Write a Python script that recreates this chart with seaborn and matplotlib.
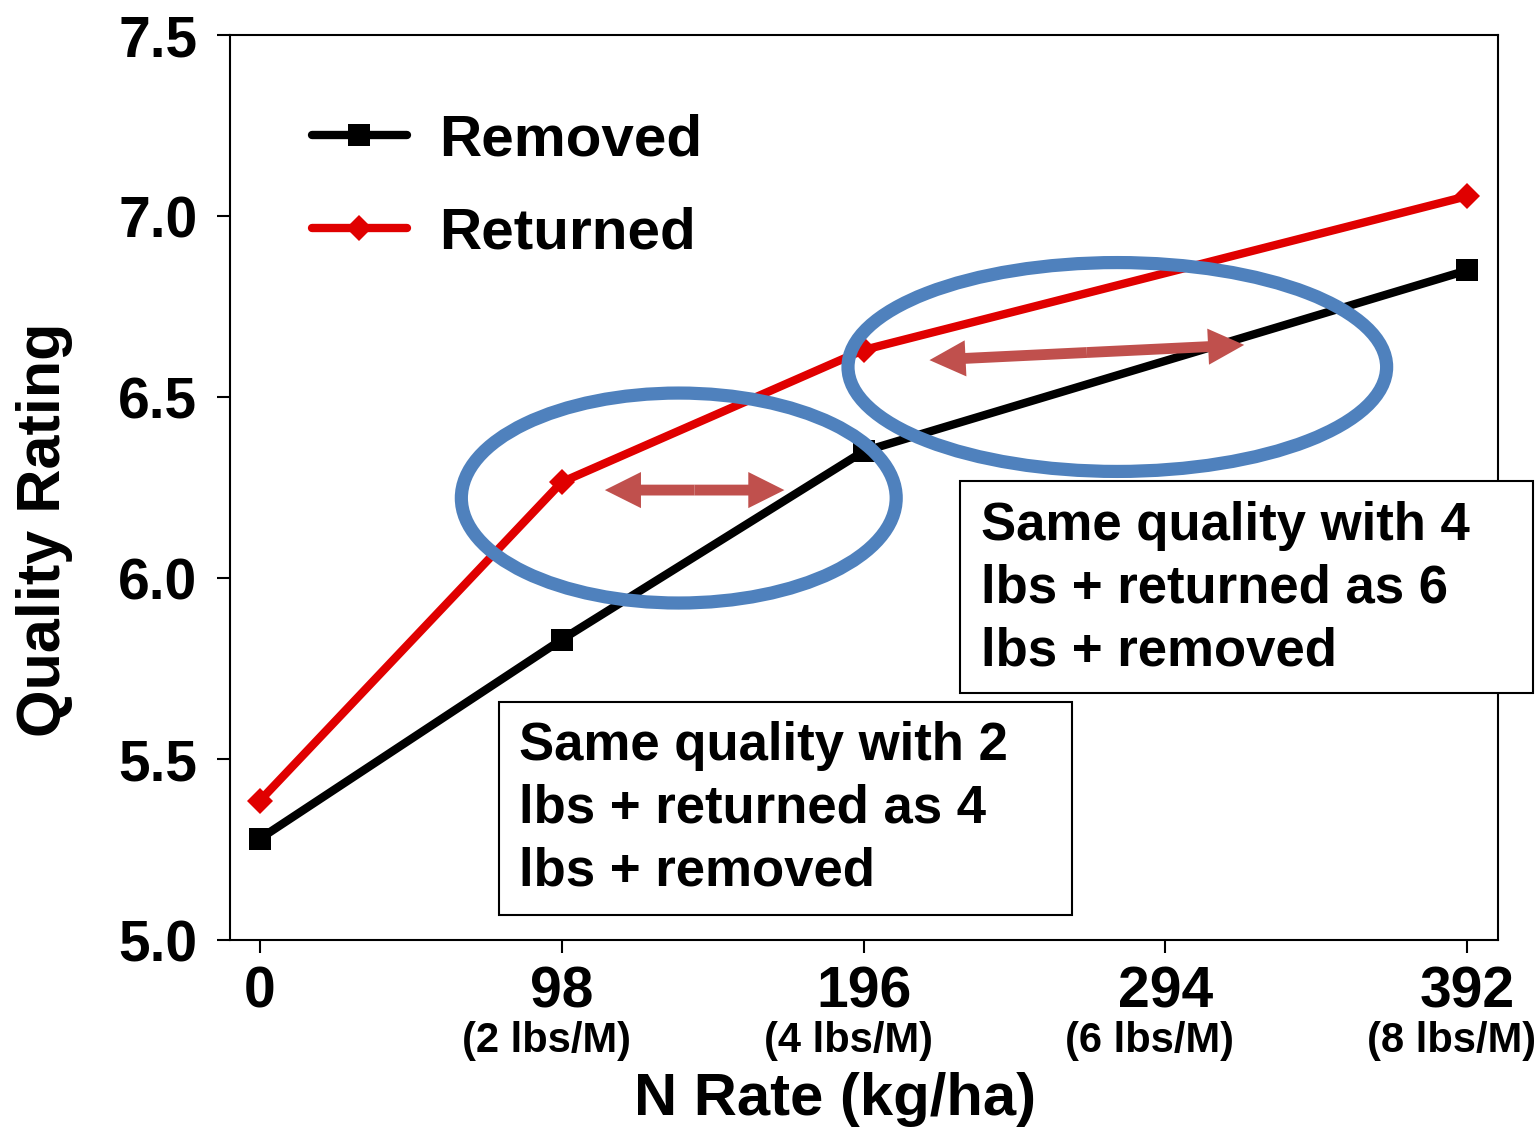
import matplotlib
matplotlib.use('Agg')
import matplotlib.pyplot as plt
import seaborn as sns
from matplotlib.patches import Ellipse, Rectangle, FancyArrowPatch

# Data
n_rate = [0, 98, 196, 392]
removed = [5.28, 5.83, 6.35, 6.85]
returned = [5.385, 6.265, 6.63, 7.055]
tick_pos = [0, 98, 196, 294, 392]
tick_main = ['0', '98', '196', '294', '392']
tick_sub = ['', '(2 lbs/M)', '(4 lbs/M)', '(6 lbs/M)', '(8 lbs/M)']
box_texts = [
    'Same quality with 2\nlbs + returned as 4\nlbs + removed',
    'Same quality with 4\nlbs + returned as 6\nlbs + removed',
]

BLUE = '#4F81BD'
ARROW = '#C0504D'
RED = '#E00000'

sns.set_theme(style='white')
plt.rcParams['font.family'] = ['Liberation Sans', 'DejaVu Sans']
plt.rcParams['font.weight'] = 'bold'
plt.rcParams['text.color'] = 'black'
plt.rcParams['axes.labelcolor'] = 'black'
plt.rcParams['xtick.color'] = 'black'
plt.rcParams['ytick.color'] = 'black'

fig = plt.figure(figsize=(15.4, 11.27), dpi=100)
ax = fig.add_axes([0.1494, 0.1659, 0.8233, 0.8030])

sns.lineplot(x=n_rate, y=removed, ax=ax, color='black', lw=6,
             marker='s', markersize=15.5, markeredgewidth=0, label='Removed')
sns.lineplot(x=n_rate, y=returned, ax=ax, color=RED, lw=6,
             marker='D', markersize=13, markeredgewidth=0, label='Returned')

ax.set_xlim(-9.7, 402)
ax.set_ylim(5.0, 7.5)
ax.set_xticks(tick_pos)
ax.set_xticklabels(tick_main)
ax.set_yticks([5.0, 5.5, 6.0, 6.5, 7.0, 7.5])
ax.set_yticklabels(['5.0', '5.5', '6.0', '6.5', '7.0', '7.5'])
ax.tick_params(axis='both', which='major', direction='out', length=9.5, width=1.5,
               color='black', labelcolor='black', labelsize=41, bottom=True, left=True)
ax.tick_params(axis='x', pad=9)
ax.tick_params(axis='y', pad=14)
for lab in ax.get_xticklabels() + ax.get_yticklabels():
    lab.set_fontweight('bold')
for sp in ax.spines.values():
    sp.set_color('black')
    sp.set_linewidth(1.5)

# second line of x tick labels
trans = matplotlib.transforms.blended_transform_factory(ax.transData, ax.transAxes)
for xp, s in zip(tick_pos, tick_sub):
    if s:
        ax.text(xp - 5, -0.1116, s, transform=trans, ha='center', va='center',
                fontsize=30, fontweight='bold', clip_on=False)

ax.set_xlabel('N Rate (kg/ha)', fontsize=43, fontweight='bold')
ax.set_ylabel('Quality Rating', fontsize=44, fontweight='bold')
ax.xaxis.set_label_coords(0.4775, -0.146)
ax.yaxis.set_label_coords(-0.124, 0.453)

leg = ax.legend(loc='upper left', bbox_to_anchor=(0.0647, 0.913), frameon=False,
                fontsize=42, handlelength=1.62, handletextpad=0.55, labelspacing=0.66,
                borderpad=0, borderaxespad=0)
for t in leg.get_texts():
    t.set_fontweight('bold')
    t.set_color('black')

# ellipses highlighting the comparison regions
ax.add_patch(Ellipse((136.0, 6.221), 141.2, 0.580, fill=False, ec=BLUE, lw=9.5, zorder=4))
ax.add_patch(Ellipse((278.4, 6.583), 174.9, 0.577, fill=False, ec=BLUE, lw=9.5, zorder=4))

# double-headed arrows (two halves from the midpoint)
def double_arrow(x0, y0, x1, y1):
    xm, ym = (x0 + x1) / 2, (y0 + y1) / 2
    for xe, ye in [(x0, y0), (x1, y1)]:
        ax.add_patch(FancyArrowPatch((xm, ym), (xe, ye),
                                     arrowstyle='simple,head_length=1,head_width=1,tail_width=0.3',
                                     mutation_scale=26, color=ARROW, lw=0,
                                     shrinkA=0, shrinkB=0, zorder=5))

double_arrow(112.0, 6.243, 170.3, 6.243)
double_arrow(217.4, 6.602, 319.6, 6.644)

# annotation boxes
boxes = [(0.2121, 0.0276, 0.4519, 0.2354), (0.5757, 0.2729, 0.4519, 0.2343)]
text_xy = [(0.2279, 0.2425), (0.5923, 0.4855)]
for (bx, by, bw, bh), (tx, ty), s in zip(boxes, text_xy, box_texts):
    ax.add_patch(Rectangle((bx, by), bw, bh, transform=ax.transAxes, fc='white',
                           ec='black', lw=1.5, clip_on=False, zorder=6))
    ax.text(tx, ty, s, transform=ax.transAxes, ha='left', va='top', fontsize=38,
            fontweight='bold', linespacing=1.33, zorder=7, clip_on=False)

fig.savefig('out.png', dpi=100)
